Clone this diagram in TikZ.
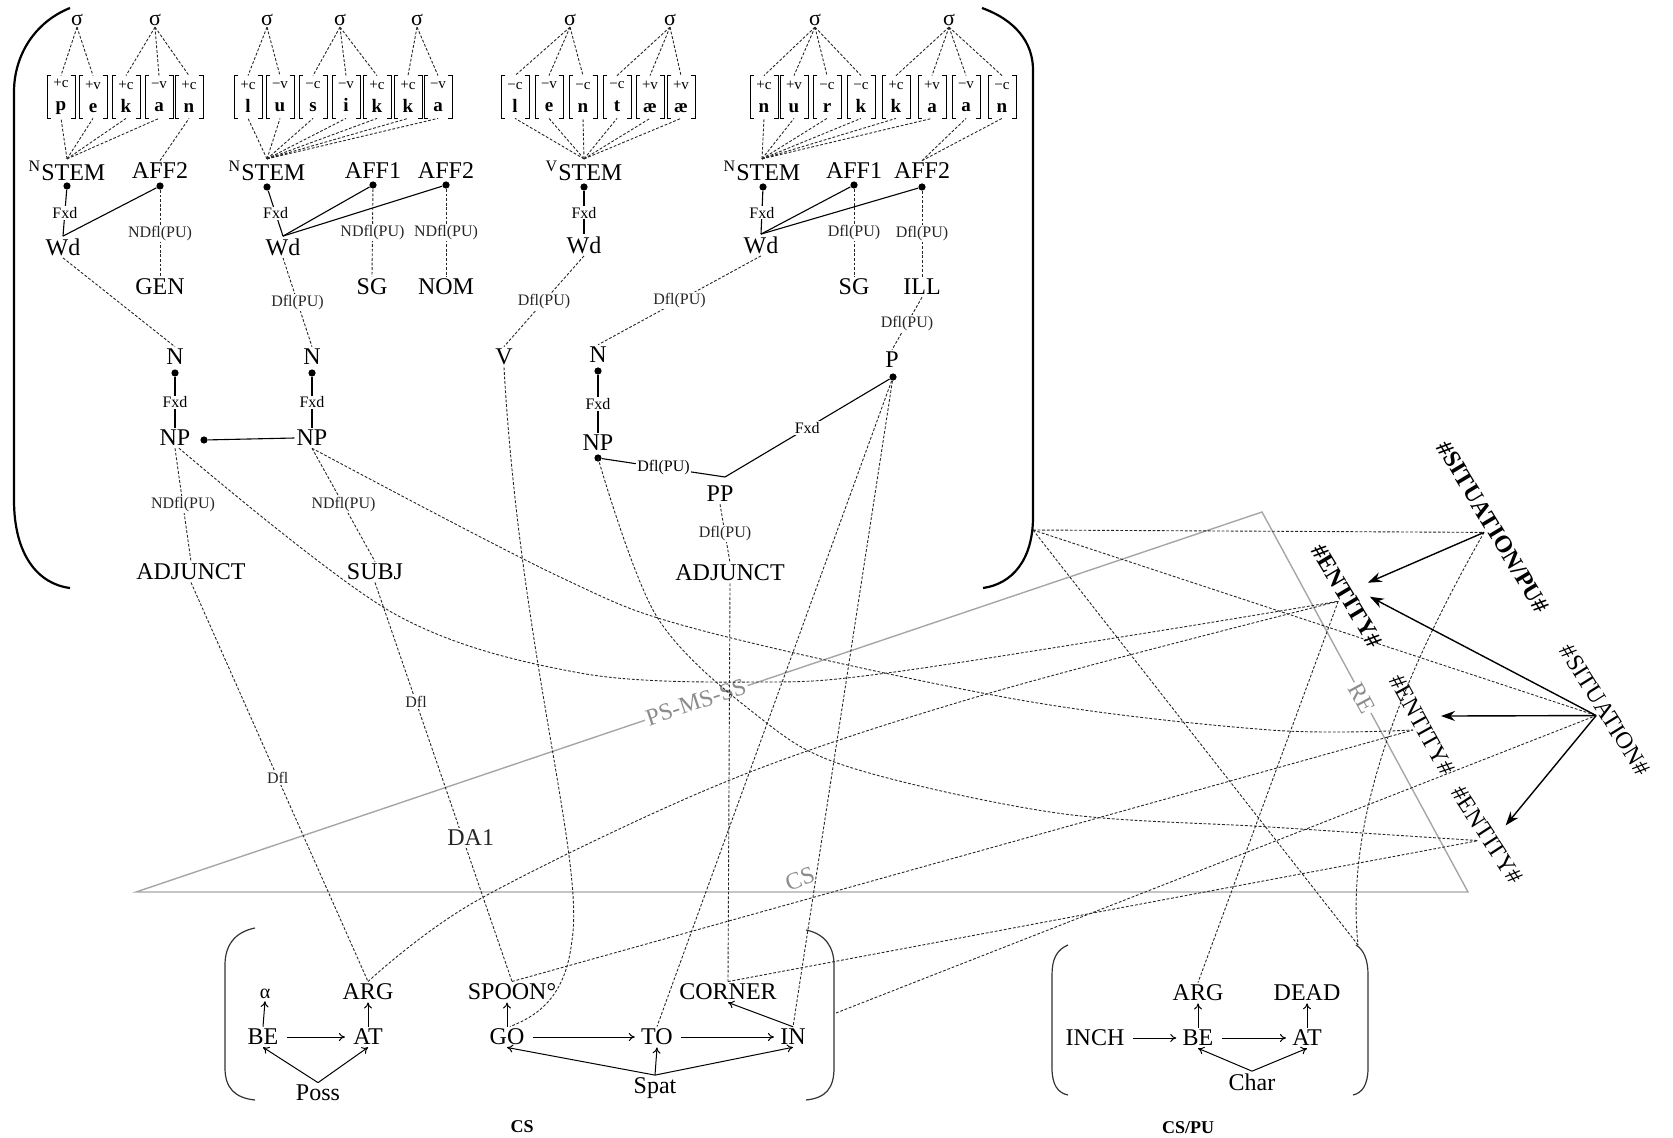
\documentclass[tikz,border=0pt]{standalone}
\usepackage{fontspec}
\setmainfont{Liberation Serif}
\usetikzlibrary{arrows.meta}
\newcommand{\phs}[4]{%
  \node[seg] (#1) at (#2,97) {{\fontsize{7.5}{8}\selectfont #3}\\{\fontsize{9.5}{10}\selectfont\bfseries #4}};
  \draw[brk] ([xshift=2.2pt]#1.north west) -- (#1.north west) -- (#1.south west) -- ([xshift=2.2pt]#1.south west);
  \draw[brk] ([xshift=-2.2pt]#1.north east) -- (#1.north east) -- (#1.south east) -- ([xshift=-2.2pt]#1.south east);
}
\begin{document}
\begin{tikzpicture}[x=0.5pt,y=-0.5pt,
  dl/.style={black!85, line width=0.45pt, dash pattern=on 1.4pt off 0.9pt},
  sl/.style={line width=0.55pt},
  big/.style={font=\fontsize{12}{14}\selectfont, inner sep=1pt},
  sm/.style={font=\fontsize{8}{9}\selectfont, inner sep=0.6pt, fill=white},
  sig/.style={font=\fontsize{11}{12}\selectfont, inner sep=0.5pt},
  dot/.style={circle, fill=black, inner sep=0pt, minimum size=3.6pt},
  seg/.style={minimum width=13.6pt, minimum height=21pt, inner sep=0pt, align=center, font=\fontsize{9}{11.5}\selectfont},
  brk/.style={line width=0.45pt},
  paren/.style={line width=1.1pt},
  cparen/.style={line width=0.6pt, black!80},
  gr/.style={black!35, line width=0.7pt},
  grl/.style={black!45, font=\fontsize{12}{14}\selectfont, inner sep=1pt},
  rl/.style={font=\fontsize{12}{14}\selectfont, inner sep=1pt},
  arr/.style={-{Stealth[length=7pt,width=5pt]}, line width=0.7pt},
  ar/.style={-{To[length=3pt,width=4pt]}, line width=0.5pt},
]
\useasboundingbox (0,0) rectangle (1673,1138);

% ---------- gray triangle
\coordinate (gA) at (136,892);
\coordinate (gB) at (1262,512);
\coordinate (gC) at (1468,892);
\draw[gr] (gA) -- (gB) -- (gC) -- cycle;
\node[grl, fill=white, rotate=18.6] (psl) at (696,702) {PS-MS-SS};
\node[grl, fill=white, rotate=-61.5] (rel) at (1362,698) {RE};
\node[grl, rotate=20] (csl) at (800,879) {CS};

% ---------- big parentheses
\draw[paren] (70,8) .. controls (35,22) and (14,55) .. (14,92) -- (14,500) .. controls (14,555) and (38,584) .. (70,588);
\draw[paren] (982,8) .. controls (1015,20) and (1033,42) .. (1033,70) -- (1033,517) .. controls (1033,560) and (1012,584) .. (983,588);
\coordinate (jn) at (1033,530);

% ---------- block 1 (pekan)
\node[sig] (s1a) at (77,20) {σ};
\node[sig] (s1b) at (155,20) {σ};
\phs{b1p}{61}{+c}{p}
\phs{b1e}{93}{+v}{e}
\phs{b1k}{126}{+c}{k}
\phs{b1a}{159}{−v}{a}
\phs{b1n}{189}{+c}{n}
\foreach \q in {b1p,b1e} \draw[dl] (s1a.south) -- (\q.north);
\foreach \q in {b1k,b1a,b1n} \draw[dl] (s1b.south) -- (\q.north);
\node[big] (st1) at (67,171) {\textsuperscript{N}STEM};
\node[big] (af12) at (160,171) {AFF2};
\foreach \q in {b1p,b1e,b1k,b1a} \draw[dl] (st1.north) -- (\q.south);
\draw[dl] (af12.north) -- (b1n.south);
\node[dot] (st1d) at (67,186) {};
\node[dot] (af12d) at (160,186) {};
\node[big] (wd1) at (63,247) {Wd};
\node[big] (gen) at (160,287) {GEN};
\draw[sl] (st1d) -- node[sm] (l1) {Fxd} (wd1.north);
\draw[sl] (af12d) -- (wd1.north);
\draw[dl] (af12d) -- node[sm] (l2) {NDfl(PU)} (gen.north);

% ---------- block 2 (lusikka)
\node[sig] (s2a) at (267,20) {σ};
\node[sig] (s2b) at (340,20) {σ};
\node[sig] (s2c) at (417,20) {σ};
\phs{b2l}{248}{+c}{l}
\phs{b2u}{280}{−v}{u}
\phs{b2s}{313}{−c}{s}
\phs{b2i}{346}{−v}{i}
\phs{b2k}{377}{+c}{k}
\phs{b2kk}{408}{+c}{k}
\phs{b2a}{438}{−v}{a}
\foreach \q in {b2l,b2u} \draw[dl] (s2a.south) -- (\q.north);
\foreach \q in {b2s,b2i,b2k} \draw[dl] (s2b.south) -- (\q.north);
\foreach \q in {b2kk,b2a} \draw[dl] (s2c.south) -- (\q.north);
\node[big] (st2) at (267,171) {\textsuperscript{N}STEM};
\node[big] (af21) at (373,171) {AFF1};
\node[big] (af22) at (446,171) {AFF2};
\foreach \q in {b2l,b2u,b2s,b2i,b2k,b2kk,b2a} \draw[dl] (st2.north) -- (\q.south);
\node[dot] (st2d) at (267,187) {};
\node[dot] (af21d) at (373,185) {};
\node[dot] (af22d) at (446,185) {};
\node[big] (wd2) at (283,247) {Wd};
\node[big] (sg2) at (372,287) {SG};
\node[big] (nom2) at (446,287) {NOM};
\draw[sl] (st2d) -- node[sm] (l3) {Fxd} (wd2.north);
\draw[sl] (af21d) -- (wd2.north);
\draw[sl] (af22d) -- (wd2.north);
\draw[dl] (af21d) -- node[sm] (l4) {NDfl(PU)} (sg2.north);
\draw[dl] (af22d) -- node[sm] (l5) {NDfl(PU)} (nom2.north);

% ---------- block 3 (lentaa)
\node[sig] (s3a) at (570,20) {σ};
\node[sig] (s3b) at (670,20) {σ};
\phs{b3l}{515}{−c}{l}
\phs{b3e}{549}{−v}{e}
\phs{b3n}{583}{−c}{n}
\phs{b3t}{617}{−c}{t}
\phs{b3ae}{650}{+v}{æ}
\phs{b3aee}{681}{+v}{æ}
\foreach \q in {b3l,b3e,b3n} \draw[dl] (s3a.south) -- (\q.north);
\foreach \q in {b3t,b3ae,b3aee} \draw[dl] (s3b.south) -- (\q.north);
\node[big] (st3) at (584,171) {\textsuperscript{V}STEM};
\foreach \q in {b3l,b3e,b3n,b3t,b3ae,b3aee} \draw[dl] (st3.north) -- (\q.south);
\node[dot] (st3d) at (584,187) {};
\node[big] (wd3) at (584,245) {Wd};
\draw[sl] (st3d) -- node[sm] (l6) {Fxd} (wd3.north);

% ---------- block 4 (nurkkaan)
\node[sig] (s4a) at (815,20) {σ};
\node[sig] (s4b) at (949,20) {σ};
\phs{b4n}{764}{+c}{n}
\phs{b4u}{794}{+v}{u}
\phs{b4r}{827}{−c}{r}
\phs{b4k}{861}{−c}{k}
\phs{b4kk}{896}{+c}{k}
\phs{b4a}{932}{+v}{a}
\phs{b4aa}{966}{−v}{a}
\phs{b4nn}{1002}{−c}{n}
\foreach \q in {b4n,b4u,b4r,b4k} \draw[dl] (s4a.south) -- (\q.north);
\foreach \q in {b4kk,b4a,b4aa,b4nn} \draw[dl] (s4b.south) -- (\q.north);
\node[big] (st4) at (762,171) {\textsuperscript{N}STEM};
\node[big] (af41) at (854,171) {AFF1};
\node[big] (af42) at (922,171) {AFF2};
\foreach \q in {b4n,b4u,b4r,b4k,b4kk,b4a} \draw[dl] (st4.north) -- (\q.south);
\foreach \q in {b4aa,b4nn} \draw[dl] (af42.north) -- (\q.south);
\node[dot] (st4d) at (763,187) {};
\node[dot] (af41d) at (854,185) {};
\node[dot] (af42d) at (922,187) {};
\node[big] (wd4) at (761,245) {Wd};
\node[big] (sg4) at (854,287) {SG};
\node[big] (ill4) at (922,287) {ILL};
\draw[sl] (st4d) -- node[sm] (l7) {Fxd} (wd4.north);
\draw[sl] (af41d) -- (wd4.north);
\draw[sl] (af42d) -- (wd4.north);
\draw[dl] (af41d) -- node[sm] (l8) {Dfl(PU)} (sg4.north);
\draw[dl] (af42d) -- node[sm] (l9) {Dfl(PU)} (ill4.north);

% ---------- syntax
\node[big] (nA) at (175,357) {N};
\node[dot] (nAd) at (175,373) {};
\node[big] (npA) at (175,438) {NP};
\node[dot] (npAd) at (204,440) {};
\node[big] (nB) at (312,357) {N};
\node[dot] (nBd) at (312,373) {};
\node[big] (npB) at (312,438) {NP};
\node[big] (vV) at (504,357) {V};
\node[big] (nC) at (598,355) {N};
\node[dot] (nCd) at (598,371) {};
\node[big] (npC) at (598,443) {NP};
\node[dot] (npCd) at (598,458) {};
\node[big] (pP) at (892,360) {P};
\node[dot] (pPd) at (893,377) {};
\coordinate (ppa) at (725,477);
\node[big] (pp) at (720,494) {PP};
\node[big] (adjA) at (191,572) {ADJUNCT};
\node[big] (subj) at (375,572) {SUBJ};
\node[big] (adjB) at (730,573) {ADJUNCT};

\draw[dl] (wd1.south) -- (nA.north);
\draw[dl] (wd2.south) -- node[sm] (l10) {Dfl(PU)} (nB.north);
\draw[dl] (wd3.south) -- node[sm] (l11) {Dfl(PU)} (vV.north);
\draw[dl] (wd4.south) -- node[sm] (l12) {Dfl(PU)} (nC.north);
\draw[dl] (ill4.south) -- node[sm] (l13) {Dfl(PU)} (pP.north);
\draw[sl] (nAd) -- node[sm] (l14) {Fxd} (npA.north);
\draw[sl] (nBd) -- node[sm] (l15) {Fxd} (npB.north);
\draw[sl] (nCd) -- node[sm] (l16) {Fxd} (npC.north);
\draw[sl] (npAd) -- (npB.west);
\draw[sl] (npCd) -- node[sm] (l17) {Dfl(PU)} (ppa);
\draw[sl] (pPd) -- node[sm] (l18) {Fxd} (ppa);
\draw[dl] (pp.south) -- node[sm] (l19) {Dfl(PU)} (adjB.north);
\draw[dl] (npA.south) -- node[sm] (l20) {NDfl(PU)} (adjA.north);
\draw[dl] (npB.south) -- node[sm] (l21) {NDfl(PU)} (subj.north);

% ---------- right labels
\node[rl, font=\bfseries\fontsize{12}{14}\selectfont, rotate=-59] (sitpu) at (1493,527) {\#SITUATION/PU\#};
\node[rl, font=\bfseries\fontsize{12}{14}\selectfont, rotate=-59] (entA) at (1347,596) {\#ENTITY\#};
\node[rl, rotate=-61] (entB) at (1422,725) {\#ENTITY\#};
\node[rl, rotate=-57] (entC) at (1487,835) {\#ENTITY\#};
\node[rl, rotate=-58] (sit) at (1605,710) {\#SITUATION\#};

% ---------- CS
\draw[cparen] (255,928) .. controls (235,932) and (225,945) .. (225,965) -- (225,1068) .. controls (225,1088) and (235,1098) .. (255,1100);
\draw[cparen] (806,930) .. controls (826,934) and (834,948) .. (834,965) -- (834,1068) .. controls (834,1088) and (826,1098) .. (806,1100);
\coordinate (csR) at (836,1013);
\node[big, font=\fontsize{10}{12}\selectfont] (alpha) at (265,994) {α};
\node[big] (beA) at (263,1037) {BE};
\node[big] (atA) at (368,1037) {AT};
\node[big] (argA) at (368,992) {ARG};
\node[big] (poss) at (318,1093) {Poss};
\node[big] (spoon) at (512,992) {SPOON°};
\node[big] (go) at (507,1037) {GO};
\node[big] (to) at (657,1037) {TO};
\node[big] (in) at (793,1037) {IN};
\node[big] (corner) at (728,992) {CORNER};
\node[big] (spat) at (655,1088) {Spat};
\draw[ar] (beA.north) -- (alpha.south);
\draw[ar, shorten <=3pt, shorten >=3pt] (beA.east) -- (atA.west);
\draw[ar] (atA.north) -- (argA.south);
\draw[ar] (poss.north) -- (beA.south);
\draw[ar] (poss.north) -- (atA.south);
\draw[ar] (go.north) -- (go.north |- spoon.south);
\draw[ar, shorten <=3pt, shorten >=2pt] (go.east) -- (to.west);
\draw[ar, shorten <=3pt, shorten >=2pt] (to.east) -- (in.west);
\draw[ar] (spat.north) -- (go.south);
\draw[ar] (spat.north) -- (to.south);
\draw[ar] (spat.north) -- (in.south);
\draw[ar] (in.north) -- (corner.south);
\node[font=\bfseries\fontsize{9}{10}\selectfont] (cslab) at (522,1127) {CS};

% ---------- CS/PU
\draw[cparen] (1068,945) .. controls (1056,950) and (1052,960) .. (1052,975) -- (1052,1068) .. controls (1052,1085) and (1058,1093) .. (1068,1095);
\draw[cparen] (1356,945) .. controls (1364,950) and (1368,960) .. (1368,975) -- (1368,1068) .. controls (1368,1085) and (1362,1093) .. (1353,1095);
\coordinate (cspR) at (1358,945);
\node[big] (argB) at (1198,993) {ARG};
\node[big] (dead) at (1307,993) {DEAD};
\node[big] (inch) at (1095,1038) {INCH};
\node[big] (beB) at (1198,1038) {BE};
\node[big] (atB) at (1307,1038) {AT};
\node[big] (char) at (1252,1082) {Char};
\draw[ar, shorten <=3pt, shorten >=2pt] (inch.east) -- (beB.west);
\draw[ar, shorten <=3pt, shorten >=2pt] (beB.east) -- (atB.west);
\draw[ar] (beB.north) -- (argB.south);
\draw[ar] (atB.north) -- (dead.south);
\draw[ar] (char.north) -- (beB.south);
\draw[ar] (char.north) -- (atB.south);
\node[font=\bfseries\fontsize{9}{10}\selectfont] (csplab) at (1188,1128) {CS/PU};

% ---------- long connectors
\draw[dl] (adjA.south) -- node[sm, pos=0.49] (l22) {Dfl} (argA.north);
\draw[dl] (subj.south) -- node[sm, pos=0.3] (l23) {Dfl} node[big, fill=white, pos=0.64, xshift=4pt] (da1) {DA1} (spoon.north);
\draw[dl] (adjB.south) -- (corner.north);
\draw[dl] (vV.south) .. controls (520,650) and (585,860) .. (572,940) .. controls (566,995) and (540,1015) .. ([xshift=1.5pt]go.north);
\draw[dl] (pPd) -- (to.north);
\draw[dl] (pPd) -- (in.north);
\draw[dl] plot[smooth, tension=0.55] coordinates {([xshift=2pt]npA.south) (393,613) (580,673) (767,682) (887,673) (1146,633) (entA.south)};
\draw[dl] plot[smooth, tension=0.55] coordinates {(npB.south) (560,577) (700,630) (1020,700) (1270,730) (entB.south)};
\draw[dl] plot[smooth, tension=0.55] coordinates {(npCd) (657,617) (759,717) (849,767) (1057,813) (1270,827) (entC.south)};
\draw[dl] plot[smooth, tension=0.55] coordinates {(argA.north) (478,900) (730,780) (990,693) (entA.south)};
\draw[dl] (spoon.north) -- (entB.south);
\draw[dl] (corner.north) -- (entC.south);
\draw[dl] (csR) -- (sit.south);
\draw[dl] (jn) -- (sitpu.south);
\draw[dl] (jn) -- (sit.south);
\draw[dl] (jn) -- (cspR);
\draw[dl] (sitpu.south) .. controls (1400,680) and (1345,820) .. (cspR);
\draw[dl] (entA.south) -- (argB.north);

% ---------- arrows
\draw[arr] (sitpu.south) -- ([shift={(12,-8)}]entA.north);
\draw[arr] (sit.south) -- ([shift={(14,6)}]entA.north);
\draw[arr] (sit.south) -- ([shift={(10,-4)}]entB.north);
\draw[arr] (sit.south) -- ([shift={(10,-4)}]entC.north);
\end{tikzpicture}
\end{document}
